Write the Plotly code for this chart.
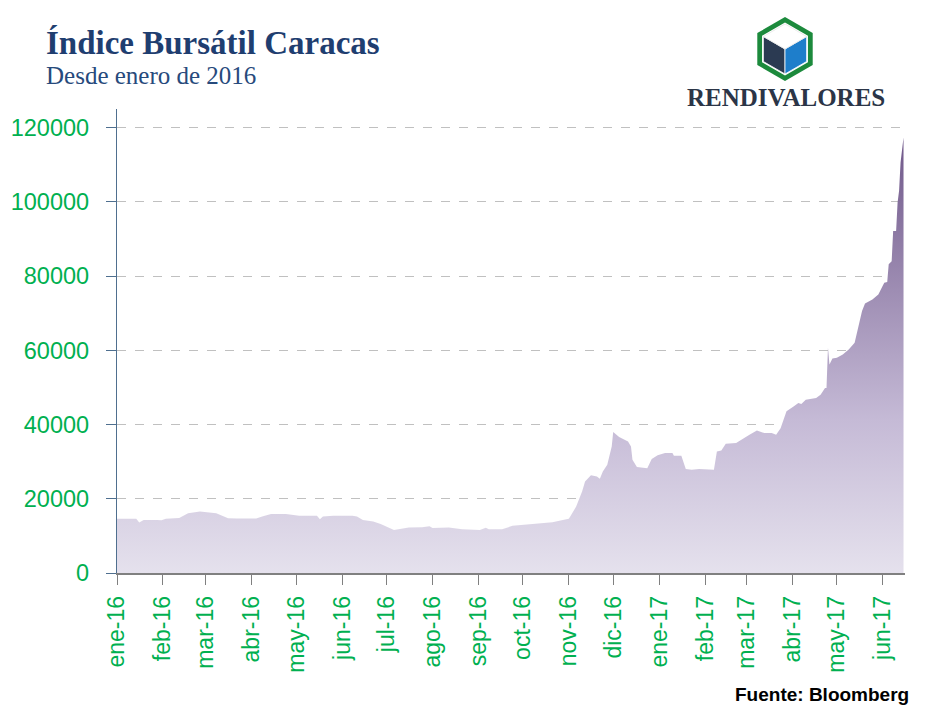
import plotly.graph_objects as go

# ---------------- data ----------------
dates = [
    "2016-01-01", "2016-01-14", "2016-01-16", "2016-01-19", "2016-01-28", "2016-01-31",
    "2016-02-03", "2016-02-07", "2016-02-12", "2016-02-18", "2016-02-26", "2016-03-08",
    "2016-03-12", "2016-03-16", "2016-03-22", "2016-04-04", "2016-04-08", "2016-04-14",
    "2016-04-24", "2016-05-03", "2016-05-15", "2016-05-17", "2016-05-19", "2016-05-26",
    "2016-06-08", "2016-06-11", "2016-06-15", "2016-06-22", "2016-06-27", "2016-07-03",
    "2016-07-06", "2016-07-16", "2016-07-25", "2016-07-30", "2016-08-01", "2016-08-12",
    "2016-08-21", "2016-09-02", "2016-09-06", "2016-09-08", "2016-09-17", "2016-09-24",
    "2016-10-01", "2016-10-10", "2016-10-21", "2016-10-28", "2016-11-01", "2016-11-02",
    "2016-11-06", "2016-11-10", "2016-11-12", "2016-11-16", "2016-11-20", "2016-11-22",
    "2016-11-24", "2016-11-27", "2016-11-30", "2016-12-01", "2016-12-05", "2016-12-11",
    "2016-12-13", "2016-12-14", "2016-12-17", "2016-12-24", "2016-12-27", "2016-12-31",
    "2017-01-05", "2017-01-10", "2017-01-11", "2017-01-16", "2017-01-19", "2017-01-23",
    "2017-01-28", "2017-02-07", "2017-02-09", "2017-02-12", "2017-02-15", "2017-02-22",
    "2017-02-26", "2017-03-03", "2017-03-08", "2017-03-13", "2017-03-18", "2017-03-21",
    "2017-03-24", "2017-03-28", "2017-04-02", "2017-04-05", "2017-04-07", "2017-04-10",
    "2017-04-17", "2017-04-20", "2017-04-23", "2017-04-24", "2017-04-25", "2017-04-26",
    "2017-04-28", "2017-05-01", "2017-05-05", "2017-05-09", "2017-05-13", "2017-05-15",
    "2017-05-18", "2017-05-20", "2017-05-25", "2017-05-29", "2017-06-01", "2017-06-02",
    "2017-06-04", "2017-06-05", "2017-06-07", "2017-06-08", "2017-06-10", "2017-06-11",
    "2017-06-12", "2017-06-13", "2017-06-15",
]
values = [
    14600, 14600, 13600, 14300, 14300, 14200,
    14600, 14600, 14800, 16100, 16550, 16100,
    15400, 14750, 14650, 14650, 15200, 15900,
    15900, 15400, 15400, 14500, 15200, 15400,
    15400, 15200, 14300, 13850, 13200, 12250,
    11600, 12250, 12300, 12600, 12100, 12250,
    11800, 11600, 12200, 11800, 11800, 12700,
    12950, 13400, 13700, 14300, 14600, 15200,
    17900, 21950, 24650, 26300, 26000, 25400,
    27350, 29150, 34100, 38000, 36650, 35450,
    34100, 30500, 28550, 28250, 30700, 31700,
    32300, 32300, 31600, 31600, 28000, 27800,
    28000, 27800, 32750, 33000, 34800, 35000,
    35900, 37250, 38400, 37700, 37700, 37250,
    39000, 43550, 44900, 45800, 45500, 46700,
    47150, 48000, 49850, 49850, 60650, 56150,
    57800, 58000, 58850, 60200, 62000, 65150,
    70550, 72600, 73700, 75000, 77750, 78200,
    78400, 83150, 84000, 92150, 92150, 99800,
    102950, 110600, 117350,
]

tick_dates = [
    "2016-01-01", "2016-02-01", "2016-03-01", "2016-04-01", "2016-05-01", "2016-06-01",
    "2016-07-01", "2016-08-01", "2016-09-01", "2016-10-01", "2016-11-01", "2016-12-01",
    "2017-01-01", "2017-02-01", "2017-03-01", "2017-04-01", "2017-05-01", "2017-06-01",
]
tick_labels = [
    "ene-16", "feb-16", "mar-16", "abr-16", "may-16", "jun-16", "jul-16", "ago-16",
    "sep-16", "oct-16", "nov-16", "dic-16", "ene-17", "feb-17", "mar-17", "abr-17",
    "may-17", "jun-17",
]
y_ticks = [0, 20000, 40000, 60000, 80000, 100000, 120000]

# ---------------- layout helpers (pixel -> paper) ----------------
W, H = 928, 713
ML, MR, MT, MB = 117, 23, 109, 140
PW, PH = W - ML - MR, H - MT - MB


def PX(x):
    return (x - ML) / PW


def PY(y):
    return (H - MB - y) / PH


GREEN = "#00B050"

fig = go.Figure()
fig.add_trace(go.Scatter(
    x=dates, y=values, mode="lines",
    line=dict(width=0, color="rgba(0,0,0,0)"),
    fill="tozeroy",
    fillgradient=dict(type="vertical",
                      colorscale=[[0, "#E5E1ED"], [0.35, "#C5BAD6"], [1, "#6F5789"]],
                      start=0, stop=118000),
    hoverinfo="x+y", showlegend=False,
))

fig.update_layout(
    width=W, height=H,
    margin=dict(l=ML, r=MR, t=MT, b=MB),
    paper_bgcolor="white", plot_bgcolor="white",
    font=dict(family="Liberation Sans, Arial, sans-serif"),
    xaxis=dict(
        type="date", range=["2016-01-01", "2017-06-16"],
        tickvals=tick_dates, ticktext=tick_labels, tickangle=-90,
        tickfont=dict(size=23, color=GREEN),
        ticks="outside", ticklen=10, tickcolor="#808080", tickwidth=1.3,
        showline=True, linecolor="#808080", linewidth=1.5,
        showgrid=False, zeroline=False, ticklabelstandoff=2,
    ),
    yaxis=dict(
        range=[0, 125000], tickvals=y_ticks, tickformat="d",
        tickfont=dict(size=23.5, color=GREEN),
        ticks="outside", ticklen=10, tickcolor="#4F6F8F", tickwidth=1.3,
        showline=True, linecolor="#4F6F8F", linewidth=1.3,
        showgrid=True, gridcolor="#C0C0C0", griddash="dash", gridwidth=1,
        zeroline=False, ticklabelstandoff=12,
    ),
)

annotations = [
    dict(text="<b>Índice Bursátil Caracas</b>", x=PX(44), y=PY(43), xanchor="left", yanchor="middle",
         font=dict(family="Liberation Serif, Times New Roman, serif", size=33, color="#1F3E70")),
    dict(text="Desde enero de 2016", x=PX(44), y=PY(75), xanchor="left", yanchor="middle",
         font=dict(family="Liberation Serif, Times New Roman, serif", size=25, color="#274A7C")),
    dict(text="<b>RENDIVALORES</b>", x=PX(785.5), y=PY(98), xanchor="center", yanchor="middle",
         font=dict(family="Liberation Serif, Times New Roman, serif", size=25, color="#2B3547")),
    dict(text="<b>Fuente: Bloomberg</b>", x=PX(911), y=PY(694), xanchor="right", yanchor="middle",
         font=dict(family="Liberation Sans, Arial, sans-serif", size=19, color="#000000")),
]
for a in annotations:
    a.update(xref="paper", yref="paper", showarrow=False)
fig.update_layout(annotations=annotations)


# ---------------- logo (decoration) ----------------
def path(points):
    return "M " + " L ".join(f"{PX(x):.5f},{PY(y):.5f}" for x, y in points) + " Z"


def hexagon(cx, cy, r):
    hw = r * 0.8660
    return [(cx, cy - r), (cx + hw, cy - r / 2), (cx + hw, cy + r / 2),
            (cx, cy + r), (cx - hw, cy + r / 2), (cx - hw, cy - r / 2)]


cx, cy = 785, 49
r_cube = 25
hw = r_cube * 0.8660
shapes = [
    dict(type="path", path=path(hexagon(cx, cy, 32)), fillcolor="#1C8A3C", line=dict(width=0)),
    dict(type="path", path=path(hexagon(cx, cy, 26.5)), fillcolor="white", line=dict(width=0)),
    dict(type="path", path=path([(cx - hw, cy - r_cube / 2), (cx, cy), (cx, cy + r_cube),
                                 (cx - hw, cy + r_cube / 2)]),
         fillcolor="#2B3A52", line=dict(width=0.8, color="white")),
    dict(type="path", path=path([(cx, cy), (cx + hw, cy - r_cube / 2), (cx + hw, cy + r_cube / 2),
                                 (cx, cy + r_cube)]),
         fillcolor="#1E7ECB", line=dict(width=0.8, color="white")),
    dict(type="path", path=path([(cx, cy - r_cube), (cx + hw, cy - r_cube / 2), (cx, cy),
                                 (cx - hw, cy - r_cube / 2)]),
         fillcolor="white", line=dict(width=0.8, color="#E6E6E6")),
]
for s in shapes:
    s.update(xref="paper", yref="paper", layer="above")
fig.update_layout(shapes=shapes)

fig.write_html("out.html")
